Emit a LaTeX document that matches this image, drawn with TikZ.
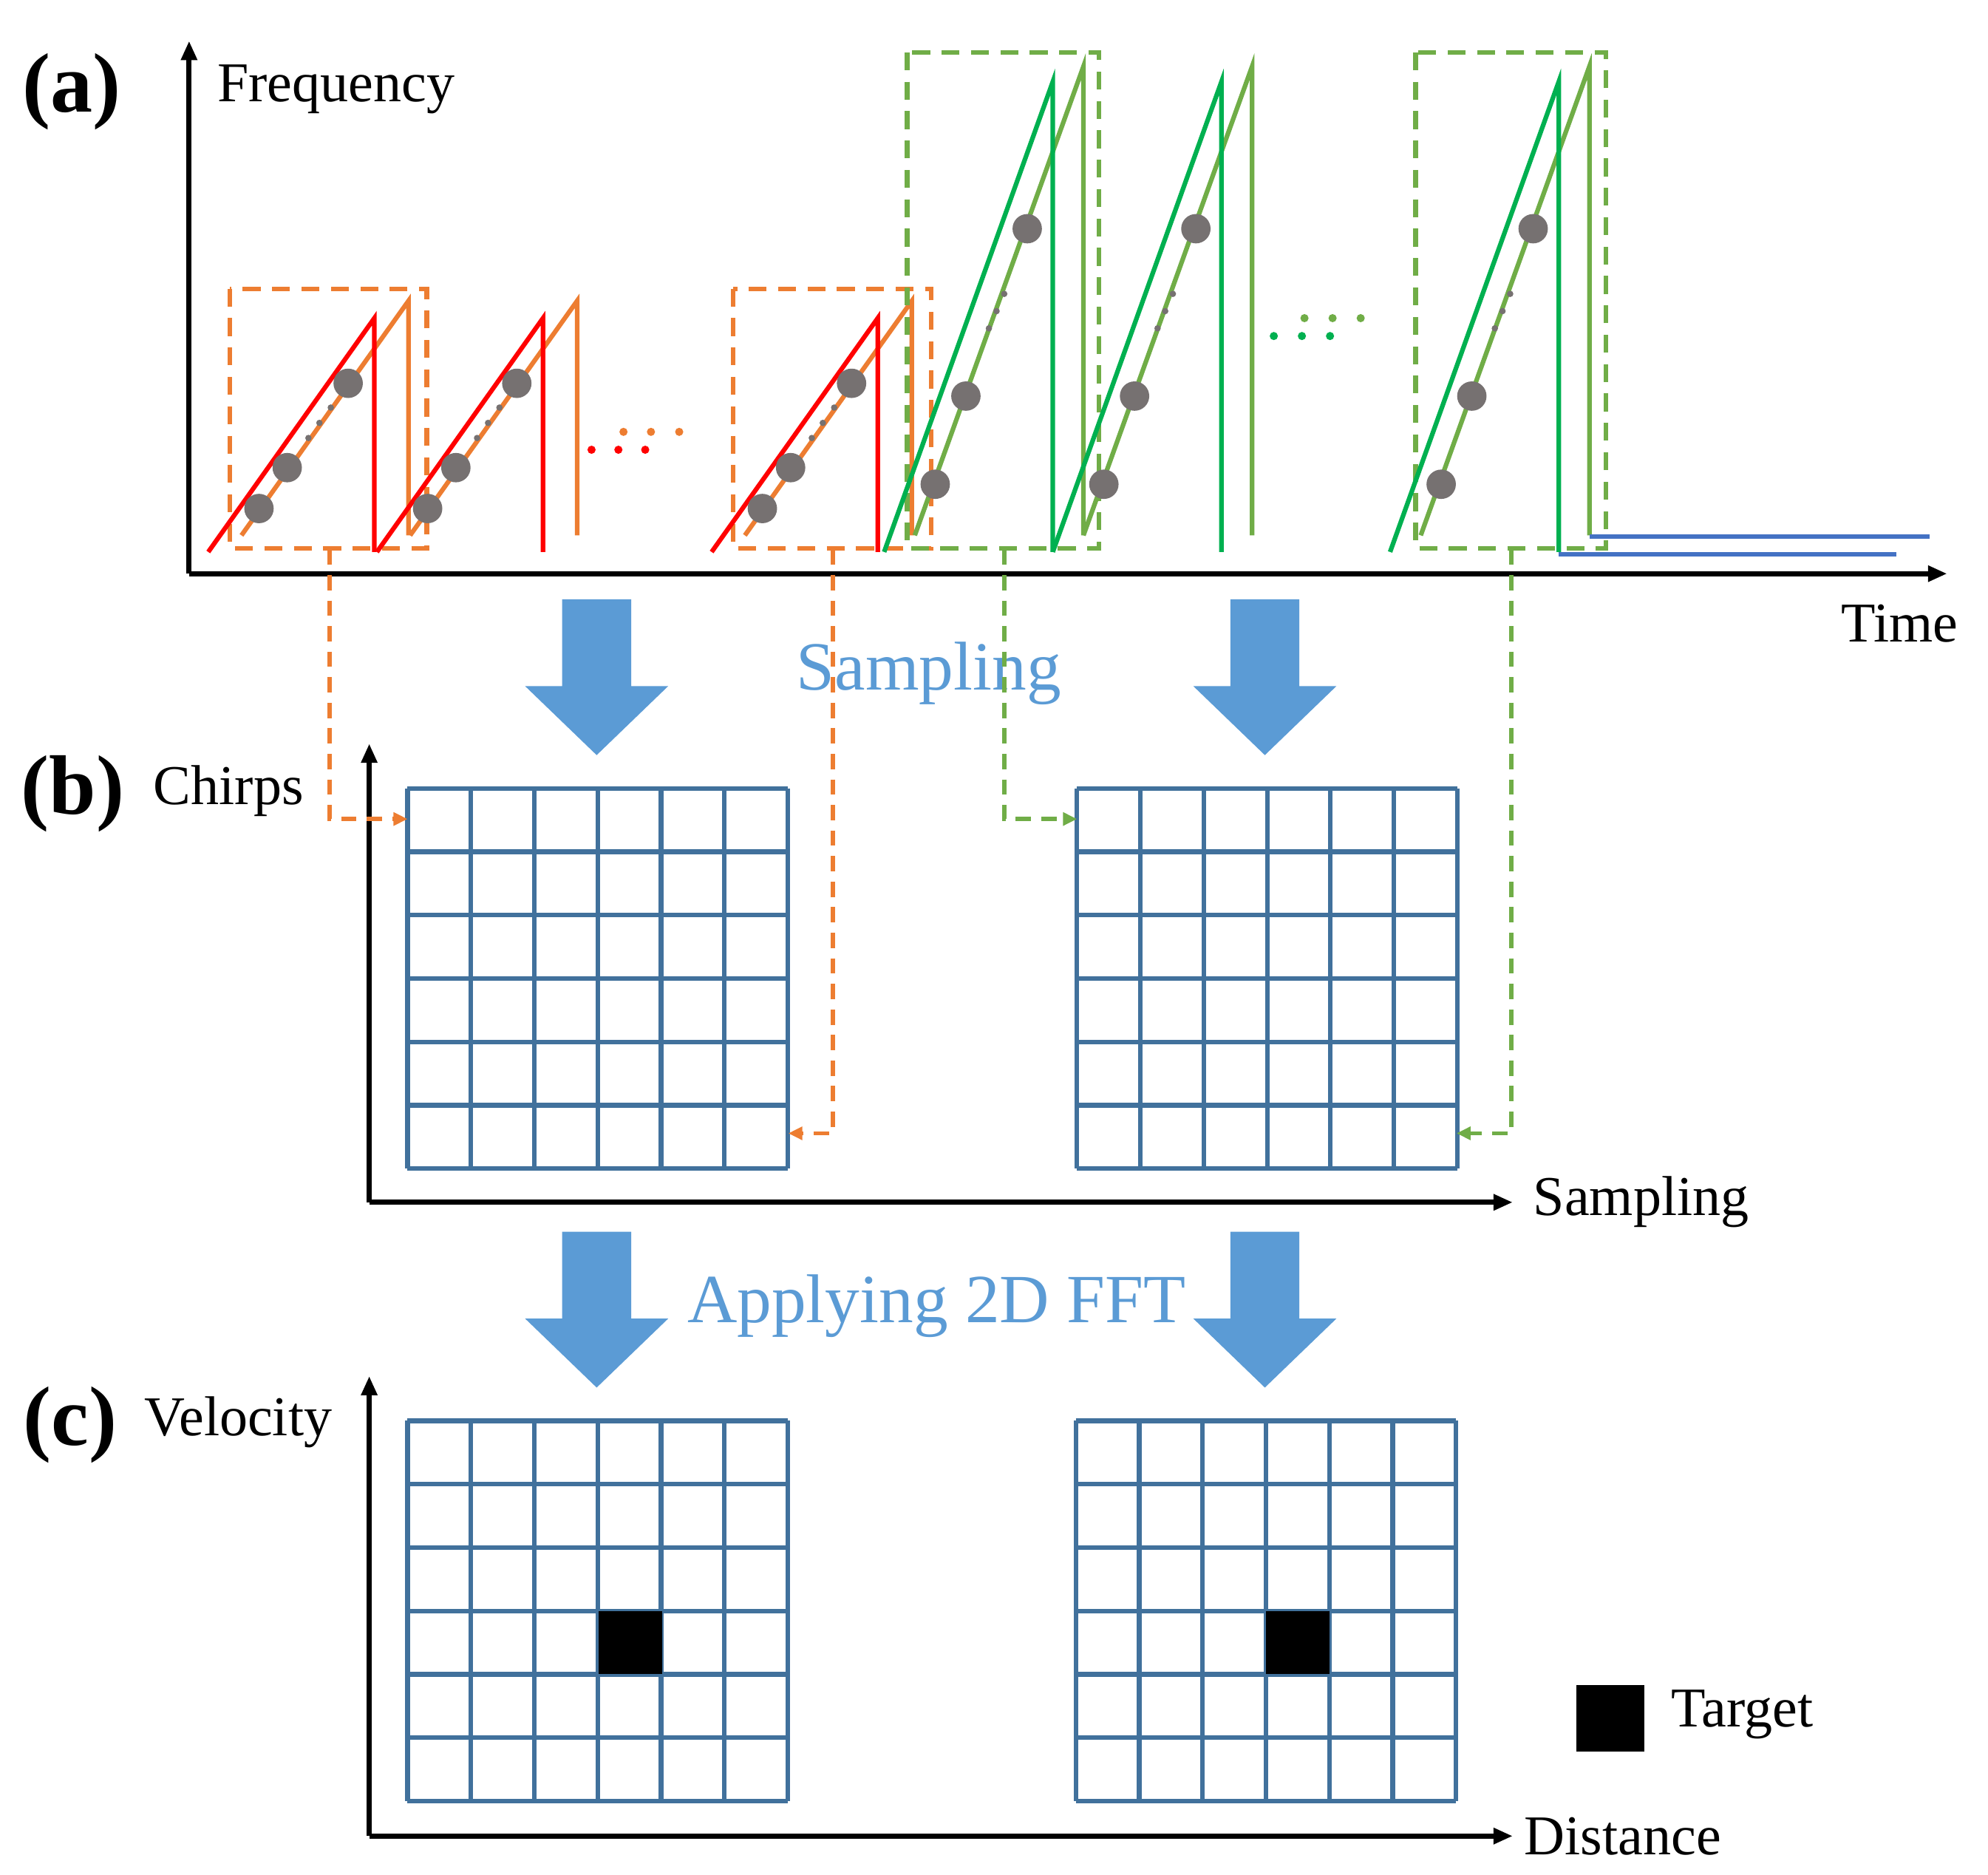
\documentclass[tikz,border=0pt]{standalone}
\usepackage{fontspec}
\setmainfont{Liberation Serif}
\usetikzlibrary{arrows.meta}
\definecolor{cred}{HTML}{FF0000}
\definecolor{corange}{HTML}{ED7D31}
\definecolor{cdg}{HTML}{00B050}
\definecolor{clg}{HTML}{70AD47}
\definecolor{cgray}{HTML}{767171}
\definecolor{carrow}{HTML}{5B9BD5}
\definecolor{cgrid}{HTML}{41719C}
\definecolor{cblue}{HTML}{4472C4}
\begin{document}
\begin{tikzpicture}[x=1pt,y=-1pt,
  axis/.style={line width=4pt,-{Triangle[length=15pt,width=12pt]}},
  chirp/.style={line width=3.6pt,line join=miter},
  dbox/.style={line width=3.6pt,dash pattern=on 14pt off 9pt},
  conn/.style={line width=3.2pt,dash pattern=on 12pt off 8pt,-{Triangle[length=11pt,width=10pt]}},
  grid/.style={cgrid,line width=3.6pt},
  bigarrow/.style={fill=carrow,draw=none},
  lab/.style={font=\fontsize{44}{50}\selectfont,inner sep=0pt},
  plab/.style={font=\fontsize{66}{70}\selectfont\bfseries,inner sep=0pt},
  blab/.style={font=\fontsize{54}{60}\selectfont,text=carrow,inner sep=0pt}]
\useasboundingbox (0,0) rectangle (1556,1467);
% ---------- panel (a)
\draw[axis] (148,449) -- (148,32);
\draw[axis] (148,449) -- (1524,449);
\node[plab] (pa) at (56,72) {(a)};
\node[lab,anchor=west] (freq) at (170,70) {Frequency};
\node[lab] (time) at (1487,488) {Time};
% orange boxes
\draw[dbox,corange] (180,226) rectangle (334,429);
\draw[dbox,corange] (574,226) rectangle (729,429);
% orange/red chirps
\foreach \s in {0,132,394}{
  \begin{scope}[xshift=\s]
  \draw[chirp,corange] (189,419) -- (319.7,235.5) -- (319.7,419);
  \draw[chirp,cred] (163,432) -- (293,249) -- (293,432);
  \fill[cgray] (202.7,398) circle (11.5) (224.8,366) circle (11.5) (272.5,300) circle (11.5);
  \fill[cgray] (258.9,319) circle (2.5) (250,331) circle (2.5) (241.4,342.8) circle (2.5);
  \end{scope}}
\foreach \x in {488,509.5,531.6} \fill[corange] (\x,338) circle (3.2);
\foreach \x in {463,484,505} \fill[cred] (\x,352) circle (3.2);
% green boxes
\draw[dbox,clg] (710,41) rectangle (860,429);
\draw[dbox,clg] (1108,41) rectangle (1257,429);
% green chirps
\foreach \s in {0,132,396}{
  \begin{scope}[xshift=\s]
  \draw[chirp,clg] (716,419) -- (848,52) -- (848,419);
  \draw[chirp,cdg] (692,432) -- (824,64) -- (824,432);
  \fill[cgray] (732,379) circle (11.5) (756,310) circle (11.5) (804,179) circle (11.5);
  \fill[cgray] (786,230) circle (2.5) (780,243.5) circle (2.5) (774,257) circle (2.5);
  \end{scope}}
\foreach \x in {1021,1043,1065} \fill[clg] (\x,249) circle (3.2);
\foreach \x in {997,1019,1041} \fill[cdg] (\x,263) circle (3.2);
\draw[chirp,cblue] (1244,420) -- (1510,420);
\draw[chirp,cblue] (1220,434) -- (1484,434);
% ---------- big arrows
\foreach \cx/\ty in {467/469,990/469,467/964,990/964}{
  \fill[bigarrow] (\cx-27,\ty) -- (\cx+27,\ty) -- (\cx+27,\ty+68) -- (\cx+56,\ty+68)
    -- (\cx,\ty+122) -- (\cx-56,\ty+68) -- (\cx-27,\ty+68) -- cycle;}
\node[blab] (samp) at (727,527) {Sampling};
\node[blab] (fft) at (733,1022) {Applying 2D FFT};
% ---------- panel (b)
\draw[axis] (289,941) -- (289,582);
\draw[axis] (289,941) -- (1184,941);
\node[plab] (pb) at (57,621) {(b)};
\node[lab,anchor=west] (chirps) at (120,619) {Chirps};
\node[lab,anchor=west] (samplab) at (1200,941) {Sampling};
\foreach \gx/\gy in {319/617,843/617,319/1112,842/1112}{
  \foreach \i in {0,...,6}{
    \draw[grid] (\gx+\i*49.6,\gy) -- (\gx+\i*49.6,\gy+297.6);
    \draw[grid] (\gx,\gy+\i*49.6) -- (\gx+297.6,\gy+\i*49.6);}}
% connectors
\coordinate (o1) at (258,430); \coordinate (o1t) at (319,641);
\coordinate (o2) at (652,430); \coordinate (o2t) at (617,887);
\coordinate (g1) at (786,430); \coordinate (g1t) at (843,641);
\coordinate (g2) at (1183,430); \coordinate (g2t) at (1140,887);
\draw[conn,corange] (o1) |- (o1t);
\draw[conn,corange] (o2) |- (o2t);
\draw[conn,clg] (g1) |- (g1t);
\draw[conn,clg] (g2) |- (g2t);
% ---------- panel (c)
\draw[axis] (289,1437) -- (289,1077);
\draw[axis] (289,1437) -- (1184,1437);
\node[plab] (pc) at (55,1115) {(c)};
\node[lab,anchor=west] (vel) at (113,1113) {Velocity};
\node[lab,anchor=west] (dist) at (1193,1437) {Distance};
\fill[black] (468.8,1260.8) rectangle (518.4,1310.4);
\fill[black] (990.8,1260.8) rectangle (1040.4,1310.4);
\fill[black] (1234,1319) rectangle (1287,1371);
\node[lab,anchor=west] (tgt) at (1308,1342) {Target};
\end{tikzpicture}
\end{document}
